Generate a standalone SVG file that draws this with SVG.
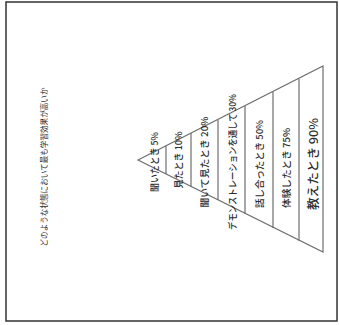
<svg xmlns="http://www.w3.org/2000/svg" width="339" height="325" viewBox="0 0 339 325">
<style>
text{font-family:"Noto Sans CJK JP","Noto Sans",sans-serif;fill:#2e2e2e;text-anchor:middle;dominant-baseline:central;font-weight:500;}
.lbl{font-size:9.5px;}
.big{font-size:12px;}
.ttl{font-size:8px;font-weight:400;}
.ln{stroke:#6e6e6e;stroke-width:1.2;fill:none;}
</style>
<rect x="0" y="0" width="339" height="325" fill="#ffffff"/>
<rect x="6" y="2" width="331" height="319" fill="none" stroke="#333" stroke-width="1.5"/>
<g id="title"><text class="ttl" transform="translate(43,167) rotate(-90)" textLength="159" lengthAdjust="spacingAndGlyphs">どのような状態において最も学習効果が高いか</text></g>
<g id="connectors">
<polygon class="ln" points="138,160 323,66 323,252"/>
<line class="ln" x1="166" y1="146" x2="166" y2="174"/>
<line class="ln" x1="191" y1="133" x2="191" y2="187"/>
<line class="ln" x1="218" y1="120" x2="218" y2="200"/>
<line class="ln" x1="245" y1="106" x2="245" y2="214"/>
<line class="ln" x1="273" y1="92" x2="273" y2="228"/>
<line class="ln" x1="299" y1="79" x2="299" y2="241"/>
</g>
<g id="n1"><text class="lbl" transform="translate(154,162) rotate(-90)" textLength="60" lengthAdjust="spacingAndGlyphs">聞いたとき 5%</text></g>
<g id="n2"><text class="lbl" transform="translate(178,160) rotate(-90)" textLength="57" lengthAdjust="spacingAndGlyphs">見たとき 10%</text></g>
<g id="n3"><text class="lbl" transform="translate(204,162) rotate(-90)" textLength="91" lengthAdjust="spacingAndGlyphs">聞いて見たとき 20%</text></g>
<g id="n4"><text class="lbl" transform="translate(232,162) rotate(-90)" textLength="136" lengthAdjust="spacingAndGlyphs">デモンストレーションを通して 30%</text></g>
<g id="n5"><text class="lbl" transform="translate(259,164) rotate(-90)" textLength="88" lengthAdjust="spacingAndGlyphs">話し合ったとき 50%</text></g>
<g id="n6"><text class="lbl" transform="translate(286,168) rotate(-90)" textLength="80" lengthAdjust="spacingAndGlyphs">体験したとき 75%</text></g>
<g id="n7"><text class="big" transform="translate(312,164) rotate(-90)" textLength="92" lengthAdjust="spacingAndGlyphs">教えたとき 90%</text></g>
</svg>
